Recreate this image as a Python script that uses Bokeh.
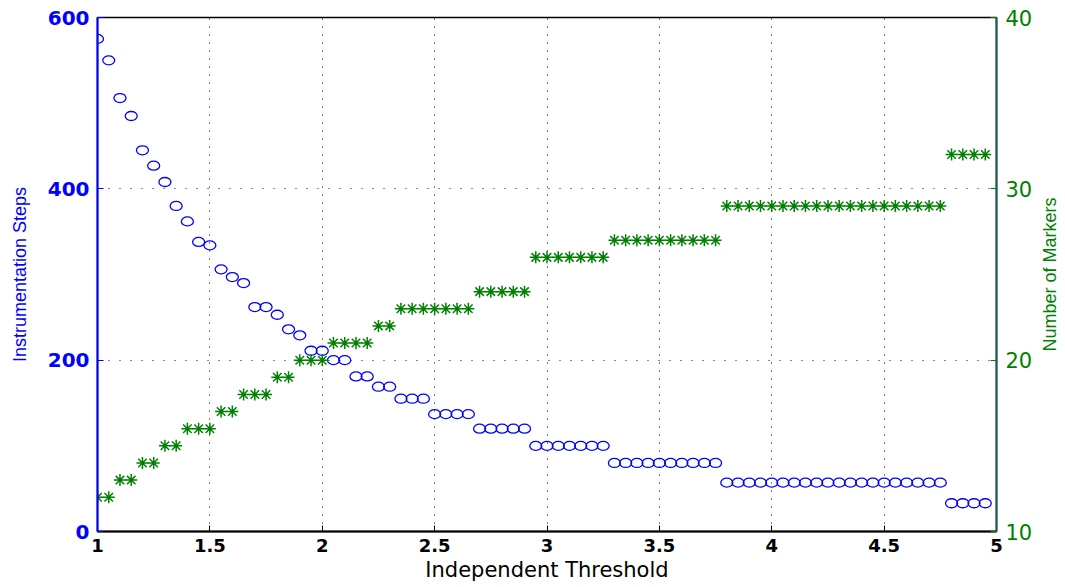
import math
from bokeh.plotting import figure
from bokeh.models import Range1d, LinearAxis, FixedTicker, Label
from bokeh.embed import file_html
from bokeh.resources import INLINE

# ---- data ----
threshold = [1.00, 1.05, 1.10, 1.15, 1.20, 1.25, 1.30, 1.35, 1.40, 1.45,
             1.50, 1.55, 1.60, 1.65, 1.70, 1.75, 1.80, 1.85, 1.90, 1.95,
             2.00, 2.05, 2.10, 2.15, 2.20, 2.25, 2.30, 2.35, 2.40, 2.45,
             2.50, 2.55, 2.60, 2.65, 2.70, 2.75, 2.80, 2.85, 2.90, 2.95,
             3.00, 3.05, 3.10, 3.15, 3.20, 3.25, 3.30, 3.35, 3.40, 3.45,
             3.50, 3.55, 3.60, 3.65, 3.70, 3.75, 3.80, 3.85, 3.90, 3.95,
             4.00, 4.05, 4.10, 4.15, 4.20, 4.25, 4.30, 4.35, 4.40, 4.45,
             4.50, 4.55, 4.60, 4.65, 4.70, 4.75, 4.80, 4.85, 4.90, 4.95]

instrumentation_steps = [575, 550, 506, 485, 445, 427, 408, 380, 362, 338,
                         334, 306, 297, 290, 262, 262, 253, 236, 229, 211,
                         211, 200, 200, 181, 181, 169, 169, 155, 155, 155,
                         137, 137, 137, 137, 120, 120, 120, 120, 120, 100,
                         100, 100, 100, 100, 100, 100, 80, 80, 80, 80,
                         80, 80, 80, 80, 80, 80, 57, 57, 57, 57,
                         57, 57, 57, 57, 57, 57, 57, 57, 57, 57,
                         57, 57, 57, 57, 57, 57, 33, 33, 33, 33]

number_of_markers = [12, 12, 13, 13, 14, 14, 15, 15, 16, 16,
                     16, 17, 17, 18, 18, 18, 19, 19, 20, 20,
                     20, 21, 21, 21, 21, 22, 22, 23, 23, 23,
                     23, 23, 23, 23, 24, 24, 24, 24, 24, 26,
                     26, 26, 26, 26, 26, 26, 27, 27, 27, 27,
                     27, 27, 27, 27, 27, 27, 29, 29, 29, 29,
                     29, 29, 29, 29, 29, 29, 29, 29, 29, 29,
                     29, 29, 29, 29, 29, 29, 32, 32, 32, 32]

x_ticks = [1, 1.5, 2, 2.5, 3, 3.5, 4, 4.5, 5]
x_tick_labels = ["1", "1.5", "2", "2.5", "3", "3.5", "4", "4.5", "5"]
left_ticks = [0, 200, 400, 600]
right_ticks = [10, 20, 30, 40]
x_grid = [1.5, 2, 2.5, 3, 3.5, 4, 4.5]
y_grid = [200, 400]
right_label = "Number of Markers"

BLUE = "#0000ff"
GREEN = "#008000"
TEAL = "#1c5c5c"

p = figure(width=1060, height=587,
           x_range=Range1d(1, 5), y_range=Range1d(0, 600),
           output_backend="svg", toolbar_location=None,
           min_border_left=97, min_border_right=64,
           min_border_top=17, min_border_bottom=56)
p.background_fill_color = "white"
p.border_fill_color = "white"
p.outline_line_color = "black"
p.outline_line_width = 1.5

p.extra_y_ranges = {"right": Range1d(10, 40)}

# grids
p.xgrid.ticker = FixedTicker(ticks=x_grid)
p.xgrid.grid_line_color = "black"
p.xgrid.grid_line_dash = "1 7"
p.xgrid.grid_line_width = 1
p.ygrid.ticker = FixedTicker(ticks=y_grid)
p.ygrid.grid_line_color = BLUE
p.ygrid.grid_line_dash = "1 10"
p.ygrid.grid_line_width = 1

# bottom axis
xa = p.xaxis[0]
xa.ticker = FixedTicker(ticks=x_ticks)
xa.major_label_overrides = dict(zip(x_ticks, x_tick_labels))
xa.axis_label = "Independent Threshold"
xa.axis_label_text_font = "DejaVu Sans"
xa.axis_label_text_font_size = "21px"
xa.axis_label_text_font_style = "normal"
xa.axis_label_text_color = "black"
xa.axis_label_standoff = 3
xa.major_label_text_font = "DejaVu Sans"
xa.major_label_text_font_style = "bold"
xa.major_label_text_font_size = "18px"
xa.major_label_text_color = "black"
xa.major_label_standoff = 7
xa.axis_line_color = "black"
xa.axis_line_width = 2
xa.major_tick_in = 6
xa.major_tick_out = 0
xa.major_tick_line_color = "black"
xa.minor_tick_line_color = None

# left axis
ya = p.yaxis[0]
ya.ticker = FixedTicker(ticks=left_ticks)
ya.axis_label = "Instrumentation Steps"
ya.axis_label_text_font = "Liberation Sans"
ya.axis_label_text_font_size = "18px"
ya.axis_label_text_font_style = "normal"
ya.axis_label_text_color = BLUE
ya.axis_label_standoff = 15
ya.major_label_text_font = "DejaVu Sans"
ya.major_label_text_font_style = "bold"
ya.major_label_text_font_size = "20px"
ya.major_label_text_color = BLUE
ya.major_label_standoff = 8
ya.axis_line_color = BLUE
ya.axis_line_width = 2
ya.major_tick_in = 6
ya.major_tick_out = 0
ya.major_tick_line_color = BLUE
ya.minor_tick_line_color = None

# right axis
ra = LinearAxis(y_range_name="right", ticker=FixedTicker(ticks=right_ticks))
ra.major_label_text_font = "DejaVu Sans"
ra.major_label_text_font_size = "21px"
ra.major_label_text_color = GREEN
ra.major_label_standoff = 9
ra.axis_line_color = TEAL
ra.axis_line_width = 2
ra.major_tick_in = 6
ra.major_tick_out = 0
ra.major_tick_line_color = GREEN
ra.minor_tick_line_color = None
p.add_layout(ra, "right")

# right axis title (reads bottom-to-top, like the left one); placed at the
# right edge of the x range and the middle of the right range, offset outward
p.add_layout(Label(x=5, y=25, y_range_name="right", x_offset=53,
                   text=right_label, angle=90, angle_units="deg",
                   text_align="center", text_baseline="middle",
                   text_font="Liberation Sans", text_font_size="18px",
                   text_color=GREEN), "right")

# data
p.ellipse(x=threshold, y=instrumentation_steps, width=12, height=9,
          width_units="screen", height_units="screen",
          fill_color=None, line_color=BLUE, line_width=1.3)
p.scatter(x=threshold, y=number_of_markers, y_range_name="right",
          marker="asterisk", size=12, line_color=GREEN, line_width=1.5)

open("out.html", "w").write(file_html(p, INLINE))
